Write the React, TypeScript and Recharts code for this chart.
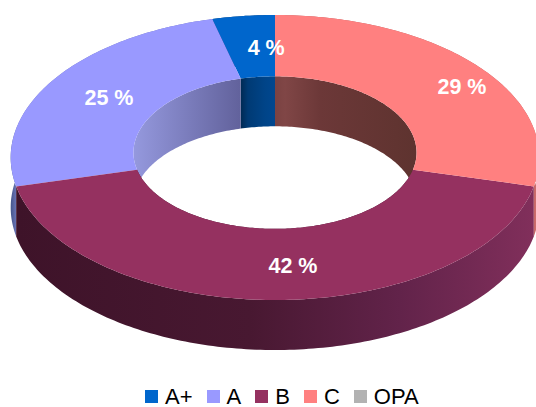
import React from 'react';
import { PieChart, Pie, Cell } from 'recharts';

const CATEGORIES = ['A+', 'A', 'B', 'C', 'OPA'];
const SHARES = [4, 25, 42, 29, 0];
const TOP_COLORS = ['#0066cc', '#9999ff', '#953160', '#ff8080', '#b2b2b2'];

const chartData = CATEGORIES.map((name, i) => ({ name, value: SHARES[i] }));

// wall shading, [x in px, colour]
const OUTER_SHADE: [number, string][][] = [
  [[0, '#003a74'], [536, '#003a74']],
  [[11, '#46568c'], [17, '#7078bc']],
  [[17, '#3e1329'], [250, '#481831'], [400, '#62234a'], [534, '#812f5b']],
  [[530, '#b85c5c'], [538, '#d27272']],
  [[0, '#666666'], [536, '#666666']],
];
const INNER_SHADE: [number, string][][] = [
  [[240, '#002850'], [248, '#003a74'], [265, '#004488'], [275, '#00478f']],
  [[133, '#9599de'], [240, '#62629c']],
  [[0, '#4a1a33'], [536, '#4a1a33']],
  [[275, '#7a4242'], [285, '#804646'], [320, '#6c3838'], [417, '#5e332f']],
  [[0, '#666666'], [536, '#666666']],
];

const W = 536;
const H = 407;
const CX = 275;
const CY = 150.6;
const OUTER = 264;
const INNER = 141.5;
const TILT = 0.5386;
const PERSPECTIVE = 0.0484;
const DEPTH = 50;

// ground plane -> screen, a circle comes out as a slightly off-centre ellipse
const project = (r: number, deg: number, cx: number, cy: number, drop = 0) => {
  const a = (deg * Math.PI) / 180;
  const X = Math.cos(a);
  const Y = -Math.sin(a);
  const w = 1 - PERSPECTIVE * Y * (r / OUTER);
  return [cx + (r * X) / w, cy + (TILT * r * Y) / w + drop];
};

const arc = (r: number, from: number, to: number, cx: number, cy: number, drop = 0) => {
  const steps = Math.max(1, Math.ceil(Math.abs(to - from)));
  const pts: string[] = [];
  for (let i = 0; i <= steps; i++) {
    const p = project(r, from + ((to - from) * i) / steps, cx, cy, drop);
    pts.push(`${p[0].toFixed(2)} ${p[1].toFixed(2)}`);
  }
  return pts;
};

const toPath = (pts: string[]) => `M${pts.join('L')}Z`;

const indexOf = (props: any) => CATEGORIES.indexOf(props.name ?? props.payload?.name);

const TopFace = (props: any) => {
  const { cx, cy, innerRadius, outerRadius, startAngle, endAngle } = props;
  if (startAngle === endAngle) return null;
  const d = toPath([
    ...arc(outerRadius, startAngle, endAngle, cx, cy),
    ...arc(innerRadius, endAngle, startAngle, cx, cy),
  ]);
  return <path d={d} fill={TOP_COLORS[indexOf(props)]} />;
};

const OuterWall = (props: any) => {
  const { cx, cy, outerRadius, startAngle, endAngle } = props;
  if (startAngle === endAngle) return null;
  const d = toPath([
    ...arc(outerRadius, startAngle, endAngle, cx, cy),
    ...arc(outerRadius, endAngle, startAngle, cx, cy, DEPTH),
  ]);
  return <path d={d} fill={`url(#outer${indexOf(props)})`} />;
};

const InnerWall = (props: any) => {
  const { cx, cy, innerRadius, startAngle, endAngle } = props;
  if (startAngle === endAngle) return null;
  const d = toPath([
    ...arc(innerRadius, startAngle, endAngle, cx, cy),
    ...arc(innerRadius, endAngle, startAngle, cx, cy, DEPTH),
  ]);
  return <path d={d} fill={`url(#inner${indexOf(props)})`} />;
};

const renderLabel = (props: any) => {
  const { cx, cy, midAngle, percent } = props;
  if (!percent) return null;
  const a = (midAngle * Math.PI) / 180;
  const Y = project(OUTER * 0.77, midAngle, cx, cy)[1];
  return (
    <text
      x={cx + 18 + OUTER * 0.81 * Math.cos(a)}
      y={Y + 2}
      fill="#ffffff"
      textAnchor="middle"
      dominantBaseline="central"
      fontFamily="Liberation Sans"
      fontWeight="bold"
      fontSize={21.5}
    >
      {`${Math.round(percent * 100)} %`}
    </text>
  );
};

const gradient = (id: string, stops: [number, string][]) => {
  const x0 = stops[0][0];
  const x1 = stops[stops.length - 1][0];
  return (
    <linearGradient key={id} id={id} gradientUnits="userSpaceOnUse" x1={x0} y1={0} x2={x1} y2={0}>
      {stops.map(([x, c]) => (
        <stop key={x} offset={(x - x0) / (x1 - x0)} stopColor={c} />
      ))}
    </linearGradient>
  );
};

const pieProps = {
  data: chartData,
  dataKey: 'value',
  nameKey: 'name',
  cx: CX,
  cy: CY,
  innerRadius: INNER,
  outerRadius: OUTER,
  startAngle: 90,
  endAngle: 450,
  stroke: 'none',
  isAnimationActive: false,
};

const App = () => (
  <div style={{ position: 'absolute', left: 0, top: 0, width: W, height: H, fontFamily: 'Liberation Sans' }}>
    <PieChart width={W} height={H} margin={{ top: 0, right: 0, bottom: 0, left: 0 }}>
      <defs>
        {OUTER_SHADE.map((s, i) => gradient(`outer${i}`, s))}
        {INNER_SHADE.map((s, i) => gradient(`inner${i}`, s))}
      </defs>
      <Pie {...pieProps} shape={OuterWall} legendType="none" />
      <Pie {...pieProps} shape={InnerWall} legendType="none" />
      <Pie {...pieProps} shape={TopFace} label={renderLabel} labelLine={false}>
        {chartData.map((d, i) => (
          <Cell key={d.name} fill={TOP_COLORS[i]} />
        ))}
      </Pie>
    </PieChart>
    <div
      style={{
        position: 'absolute',
        left: 145,
        top: 386,
        display: 'flex',
        alignItems: 'center',
        fontSize: 22,
        lineHeight: '21px',
        color: '#000000',
      }}
    >
      {CATEGORIES.map((name, i) => (
        <div key={name} style={{ display: 'flex', alignItems: 'center', marginRight: 14 }}>
          <span style={{ width: 13, height: 13, background: TOP_COLORS[i], marginRight: 7, display: 'inline-block' }} />
          <span>{name}</span>
        </div>
      ))}
    </div>
  </div>
);

export default App;
